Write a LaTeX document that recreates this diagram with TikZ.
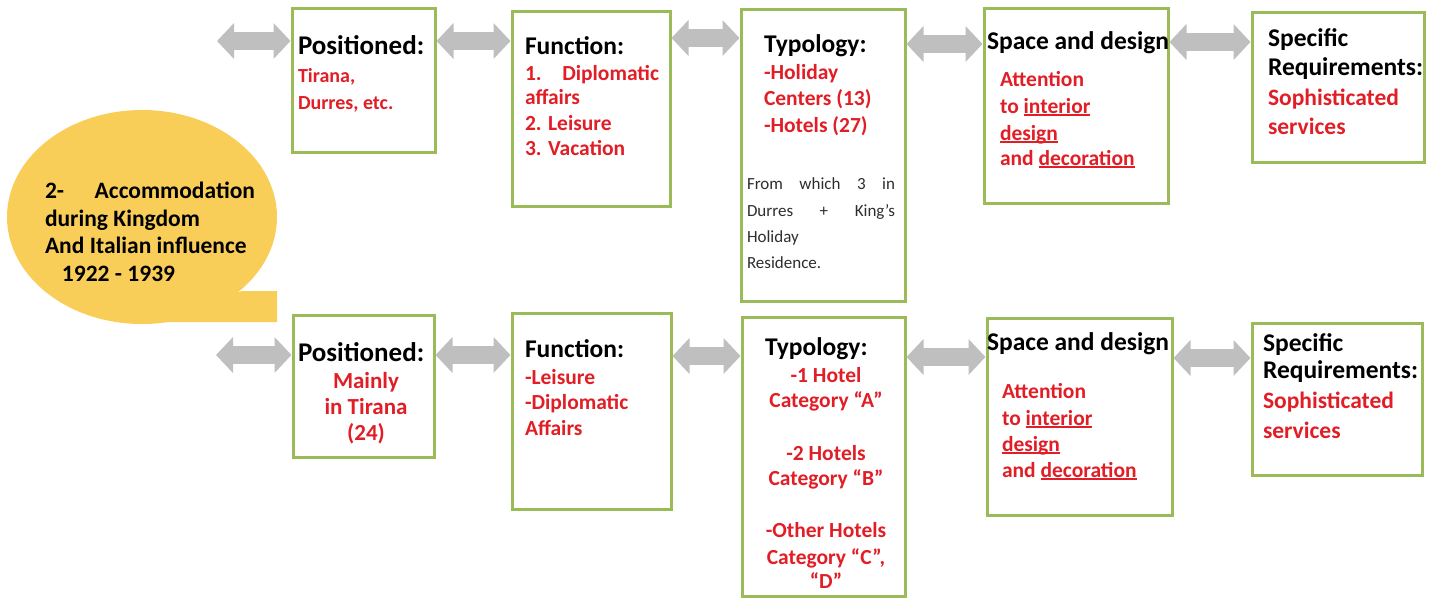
\documentclass[tikz,border=0pt]{standalone}
\usepackage{fontspec}
\setmainfont{Carlito}
\usetikzlibrary{arrows.meta,shapes.geometric,fit}
\definecolor{boxgreen}{RGB}{155,187,89}
\definecolor{redtxt}{RGB}{225,30,38}
\definecolor{arrgray}{RGB}{191,191,191}
\definecolor{callout}{RGB}{249,206,88}
\definecolor{graytxt}{RGB}{45,45,45}
\newcommand\hd{\fontsize{25.5}{30}\selectfont\bfseries\color{black}}
\newcommand\hdp{\fontsize{27}{30}\selectfont\bfseries\color{black}}
\newcommand\rd{\fontsize{21.5}{25}\selectfont\bfseries\color{redtxt}}
\newcommand\rds{\fontsize{20}{24}\selectfont\bfseries\color{redtxt}}
\newcommand\rdb{\fontsize{23}{27}\selectfont\bfseries\color{redtxt}}
\newcommand\rdl{\fontsize{23.5}{27}\selectfont\bfseries\color{redtxt}}
\newcommand\gy{\fontsize{17}{20}\selectfont\mdseries\color{graytxt}}
\newcommand\cl{\fontsize{23.5}{28}\selectfont\bfseries\color{black}}
\newcommand\Ln[2]{\baselineskip=#1pt\hbox{#2}}
\newcommand\Uln[1]{\setbox0\hbox{#1}\rlap{\rule[-2.6pt]{\wd0}{1.3pt}}\box0}
\begin{document}
\begin{tikzpicture}[x=1pt,y=-1pt,
  gbox/.style={draw=boxgreen, line width=3pt, inner sep=0pt},
  garr/.style={draw=arrgray, line width=18pt, {Triangle[length=17pt,width=35pt]}-{Triangle[length=17pt,width=35pt]}},
  txt/.style={anchor=base west, inner sep=0pt, outer sep=0pt},
  ctxt/.style={anchor=base, inner sep=0pt, outer sep=0pt}]
\useasboundingbox (0,0) rectangle (1432,598);

% callout
\node[ellipse, fill=callout, minimum width=270pt, minimum height=214pt, inner sep=0pt] (cb) at (142,217) {};
\fill[callout] (242,291) -- (277,291) -- (277,322) -- (142,322) -- cycle;
\node[txt] (ct) at (45,198) {\vtop{\Ln{0}{\hbox to 210pt{\cl 2-\hfill Accommodation}}\Ln{28}{\cl during Kingdom}\Ln{27}{\cl And Italian influence}\Ln{28}{\cl\kern17pt 1922 - 1939}}};

% boxes top
\node[gbox, fit={(292,8) (435,152)}] (T1) {};
\node[gbox, fit={(512,11) (670,206)}] (T2) {};
\node[gbox, fit={(741,9) (905,301)}] (T3) {};
\node[gbox, fit={(984,8) (1168,203)}] (T4) {};
\node[gbox, fit={(1252,12) (1424,162)}] (T5) {};
% boxes bottom
\node[gbox, fit={(293,315) (434,457)}] (B1) {};
\node[gbox, fit={(512,313) (671,509)}] (B2) {};
\node[gbox, fit={(742,317) (905,596)}] (B3) {};
\node[gbox, fit={(987,318) (1172,515)}] (B4) {};
\node[gbox, fit={(1252,323) (1422,475)}] (B5) {};

% arrows
\coordinate (L1) at (217,41);
\coordinate (L2) at (216,355);
\draw[garr] (L1) -- (T1.west |- 0,41);
\draw[garr] (T1.east |- 0,41) -- (T2.west |- 0,41);
\draw[garr] (T2.east |- 0,38) -- (T3.west |- 0,38);
\draw[garr] (T3.east |- 0,44) -- (T4.west |- 0,44);
\draw[garr] (T4.east |- 0,42) -- (T5.west |- 0,42);
\draw[garr] (L2) -- (B1.west |- 0,355);
\draw[garr] (B1.east |- 0,355) -- (B2.west |- 0,355);
\draw[garr] (B2.east |- 0,356) -- (B3.west |- 0,356);
\draw[garr] (B3.east |- 0,357) -- (B4.west |- 0,357);
\draw[garr] (B4.east |- 0,358) -- (B5.west |- 0,358);

% texts top
\node[txt] (t1) at (298,54) {\vtop{\Ln{0}{\hdp Positioned:}\Ln{28}{\rds Tirana,}\Ln{27}{\rds Durres, etc.}}};
\node[txt] (t2) at (525,54) {\vtop{\Ln{0}{\hd Function:}\Ln{26}{\hbox to 134pt{\rd 1.\hfill Diplomatic}}\Ln{24}{\rd affairs}\Ln{26}{\rd 2. Leisure}\Ln{25}{\rd 3. Vacation}}};
\node[txt] (t3) at (764,52) {\vtop{\Ln{0}{\hd Typology:}\Ln{27}{\rd -Holiday}\Ln{26}{\rd Centers (13)}\Ln{27}{\rd -Hotels (27)}}};
\node[txt] (g3) at (747,189) {\vtop{\Ln{0}{\hbox to 148pt{\gy From\hfil which\hfil 3\hfil in}}\Ln{27}{\hbox to 148pt{\gy Durres\hfil +\hfil King’s}}\Ln{26}{\gy Holiday}\Ln{26}{\gy Residence.}}};
\node[txt] (t4) at (987,49) {\vtop{\Ln{0}{\hd Space and design}\Ln{37}{\kern13pt\rd Attention}\Ln{27}{\kern13pt\rd to \Uln{interior}}\Ln{27}{\kern13pt\rd \Uln{design}}\Ln{25}{\kern13pt\rd and \Uln{decoration}}}};
\node[txt] (t5) at (1268,46) {\vtop{\Ln{0}{\hd Specific}\Ln{29}{\hd Requirements:}\Ln{30}{\rdl Sophisticated}\Ln{29}{\rdl services}}};

% texts bottom
\node[txt] (b1) at (298,361) {\hdp Positioned:};
\node[ctxt] (b1r) at (366,388) {\vtop{\Ln{0}{\hbox to 130pt{\hss\rdb Mainly\hss}}\Ln{26}{\hbox to 130pt{\hss\rdb in Tirana\hss}}\Ln{26}{\hbox to 130pt{\hss\rdb (24)\hss}}}};
\node[txt] (b2) at (525,357) {\vtop{\Ln{0}{\hd Function:}\Ln{27}{\rd -Leisure}\Ln{25}{\rd -Diplomatic}\Ln{26}{\rd Affairs}}};
\node[txt] (b3) at (765,355) {\hd Typology:};
\node[ctxt] (b3r) at (826,382) {\vtop{\Ln{0}{\hbox to 150pt{\hss\rd -1 Hotel\hss}}\Ln{25}{\hbox to 150pt{\hss\rd Category “A”\hss}}\Ln{53}{\hbox to 150pt{\hss\rd -2 Hotels\hss}}\Ln{25}{\hbox to 150pt{\hss\rd Category “B”\hss}}\Ln{52}{\hbox to 150pt{\hss\rd -Other Hotels\hss}}\Ln{27}{\hbox to 150pt{\hss\rd Category “C”,\hss}}\Ln{24}{\hbox to 150pt{\hss\rd “D”\hss}}}};
\node[txt] (b4) at (987,350) {\vtop{\Ln{0}{\hd Space and design}\Ln{48}{\kern15pt\rd Attention}\Ln{27}{\kern15pt\rd to \Uln{interior}}\Ln{26}{\kern15pt\rd \Uln{design}}\Ln{26}{\kern15pt\rd and \Uln{decoration}}}};
\node[txt] (b5) at (1263,351) {\vtop{\Ln{0}{\hd Specific}\Ln{27}{\hd Requirements:}\Ln{30}{\rdl Sophisticated}\Ln{30}{\rdl services}}};
\end{tikzpicture}
\end{document}
